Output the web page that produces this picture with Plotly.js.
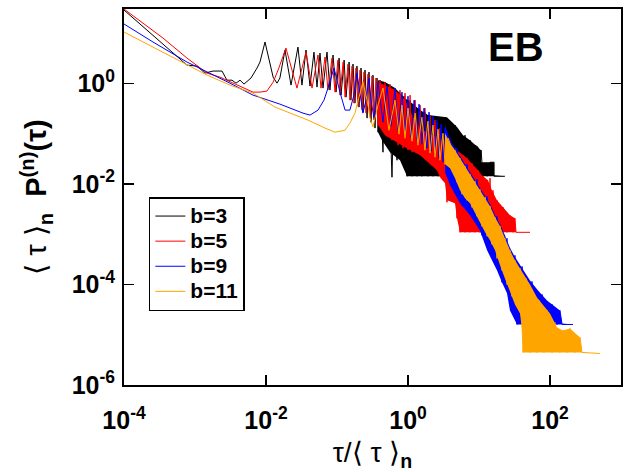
<!DOCTYPE html>
<html>
<head>
<meta charset="utf-8">
<script src="https://cdn.plot.ly/plotly-3.0.1.min.js"></script>
<style>html,body{margin:0;padding:0;background:#fff;}#chart{width:625px;height:472px;}</style>
</head>
<body>
<div id="chart"></div>
<script>
// ---------- series labels / colours ----------
const seriesNames = ['b=3', 'b=5', 'b=9', 'b=11'];
const seriesColors = ['#000000', '#ff0000', '#0000ff', '#ffa500'];

// ---------- tick labels ----------
const xTickVals = [1e-4, 1e-2, 1, 1e2];
const xTickText = ['10<sup>-4</sup>', '10<sup>-2</sup>', '10<sup>0</sup>', '10<sup>2</sup>'];
const yTickVals = [1e-6, 1e-4, 1e-2, 1];
const yTickText = ['10<sup>-6</sup>', '10<sup>-4</sup>', '10<sup>-2</sup>', '10<sup>0</sup>'];

// ---------- b=3 (black) ----------
const b3_x = [1.00e-4, 7.71e-4, 1.07e-3, 1.38e-3, 1.79e-3, 2.40e-3, 2.82e-3, 3.32e-3, 3.78e-3, 4.31e-3,
  4.90e-3, 5.40e-3, 6.15e-3, 7.47e-3, 8.23e-3, 9.68e-3, 1.14e-2, 1.26e-2, 1.43e-2, 1.57e-2,
  1.85e-2, 2.25e-2, 2.82e-2, 3.21e-2, 3.66e-2, 4.17e-2, 4.74e-2, 5.23e-2, 5.76e-2, 6.35e-2,
  7.23e-2, 7.96e-2, 8.79e-2, 9.68e-2, 0.107, 0.114, 0.126, 0.134, 0.148, 0.157,
  0.168, 0.179, 0.191, 0.204, 0.218, 0.232, 0.248, 0.265, 0.282, 0.301,
  0.321, 0.343, 0.366, 0.378, 0.403, 0.444, 0.474, 0.506, 0.539, 0.595,
  0.635, 0.700, 0.747, 0.822, 0.879, 0.968, 1.07, 1.14, 1.22, 1.34,
  1.48, 1.57, 1.73, 1.91, 2.04, 2.25, 2.40, 2.65, 2.82, 3.01,
  3.32, 3.54, 3.91, 4.17, 4.59, 4.90, 5.40, 5.95, 6.35, 7.00,
  7.47, 8.22, 8.78, 9.68, 10.3, 10.7, 11.0, 13.0, 14.3, 16.3,
  16.3, 23.2];
const b3_y = [28.8, 2.31, 2.21, 1.60, 1.76, 1.76, 1.16, 1.16, 1.01, 1.16,
  0.969, 1.11, 1.28, 2.02, 2.66, 6.65, 2.54, 1.33, 1.01, 1.28,
  4.61, 0.925, 5.29, 0.925, 4.61, 0.884, 4.20, 0.844, 4.01, 0.806,
  4.20, 0.736, 3.67, 0.671, 3.19, 0.585, 2.91, 0.533, 2.66, 0.465,
  2.42, 0.405, 2.21, 0.337, 2.02, 0.268, 1.84, 0.204, 1.68, 0.169,
  1.46, 0.129, 1.28, 0.107, 1.16, 0.0428, 1.06, 0.0743, 0.884, 0.0136,
  0.806, 0.0296, 0.671, 0.0373, 0.558, 0.0142, 0.465, 0.0142, 0.387, 0.0142,
  0.294, 0.0142, 0.268, 0.0142, 0.234, 0.0142, 0.223, 0.0142, 0.204, 0.0142,
  0.213, 0.0142, 0.169, 0.0142, 0.148, 0.0142, 0.102, 0.0142, 0.0933, 0.0142,
  0.0743, 0.0142, 0.0590, 0.0538, 0.0142, 0.0469, 0.0270, 0.0142, 0.0270, 0.0270,
  0.0142, 0.0142];
// envelope of the saturated (dense) part of b=3
const b3_band_x = [0.378, 0.474, 0.656, 0.908, 1.14, 1.48, 1.91, 3.01, 3.54, 4.90,
  5.95, 7.47, 9.68, 10.7, 10.7, 16.3, 16.3, 23.2, 0.968, 0.771, 0.557, 0.431, 0.378];
const b3_band_y = [1.16, 1.06, 0.806, 0.509, 0.405, 0.294, 0.234, 0.213, 0.213, 0.135,
  0.0933, 0.0743, 0.0538, 0.0469, 0.0270, 0.0270, 0.0149, 0.0142, 0.0142, 0.0296, 0.0428, 0.0743, 0.107];

// ---------- b=5 (red) ----------
const b5_x = [1.00e-4, 3.54e-4, 7.71e-4, 1.48e-3, 2.25e-3, 3.43e-3, 4.74e-3, 6.56e-3, 8.23e-3, 1.03e-2,
  1.26e-2, 1.48e-2, 1.91e-2, 2.73e-2, 3.66e-2, 4.45e-2, 5.40e-2, 5.95e-2, 6.78e-2, 7.46e-2,
  8.51e-2, 9.38e-2, 0.103, 0.110, 0.122, 0.130, 0.143, 0.152, 0.163, 0.173,
  0.185, 0.198, 0.211, 0.225, 0.240, 0.256, 0.273, 0.292, 0.311, 0.332,
  0.354, 0.378, 0.403, 0.444, 0.474, 0.522, 0.557, 0.595, 0.656, 0.723,
  0.771, 0.851, 0.908, 1.00, 1.07, 1.14, 1.26, 1.38, 1.48, 1.57,
  1.73, 1.91, 2.04, 2.18, 2.40, 2.56, 2.82, 3.11, 3.32, 3.54,
  3.91, 4.31, 4.59, 4.90, 5.06, 5.40, 5.95, 6.35, 6.78, 7.47,
  7.96, 8.78, 9.68, 10.3, 11.4, 13.0, 14.3, 15.2, 15.7, 17.9,
  17.9, 19.8, 21.8, 24.8, 27.3, 30.1, 32.1, 33.2, 52.3];
const b5_y = [30.2, 7.98, 3.19, 1.60, 1.33, 1.01, 0.844, 0.671, 0.671, 0.703,
  1.06, 1.84, 5.05, 0.806, 4.20, 0.806, 3.67, 0.806, 3.34, 0.736,
  3.19, 0.671, 2.91, 0.585, 2.66, 0.533, 2.42, 0.465, 2.21, 0.405,
  2.02, 0.353, 1.84, 0.294, 1.68, 0.256, 1.53, 0.213, 1.40, 0.186,
  1.28, 0.148, 1.16, 0.117, 1.06, 0.0933, 0.969, 0.0743, 0.806, 0.0590,
  0.736, 0.0514, 0.641, 0.0469, 0.585, 0.0428, 0.465, 0.0409, 0.370, 0.0373,
  0.322, 0.0296, 0.234, 0.0236, 0.186, 0.0188, 0.129, 0.0119, 0.0933, 0.00432,
  0.0743, 0.00653, 0.0514, 0.00207, 0.0428, 0.00109, 0.0373, 0.00109, 0.0325, 0.00109,
  0.0258, 0.00109, 0.0188, 0.00109, 0.0142, 0.00109, 0.0130, 0.00109, 0.00748, 0.00109,
  0.00473, 0.00109, 0.00343, 0.00109, 0.00238, 0.00109, 0.00207, 0.00109, 0.00109];
const b5_band_x = [0.378, 0.656, 0.908, 1.14, 1.48, 2.04, 2.82, 3.91, 5.06, 6.56,
  7.96, 9.68, 11.0, 13.4, 15.2, 17.9, 21.8, 27.3, 32.1, 33.2,
  52.3, 5.40, 4.90, 4.59, 3.54, 3.32, 2.82, 2.56, 1.48, 0.908, 0.474, 0.378];
const b5_band_y = [1.06, 0.736, 0.465, 0.234, 0.129, 0.0977, 0.0813, 0.0590, 0.0448, 0.0340,
  0.0258, 0.0188, 0.0149, 0.0119, 0.00748, 0.00473, 0.00343, 0.00238, 0.00207, 0.00109,
  0.00109, 0.00109, 0.00207, 0.00412, 0.00473, 0.0103, 0.0136, 0.0188, 0.0373, 0.0538, 0.0933, 0.148];

// ---------- b=9 (blue) ----------
const b9_x = [1.00e-4, 2.56e-4, 7.71e-4, 1.63e-3, 3.11e-3, 6.56e-3, 1.57e-2, 3.32e-2, 4.17e-2, 5.40e-2,
  6.56e-2, 7.46e-2, 9.08e-2, 0.110, 0.130, 0.152, 0.173, 0.191, 0.211, 0.232,
  0.256, 0.282, 0.301, 0.332, 0.378, 0.444, 0.506, 0.576, 0.656, 0.723,
  0.822, 0.908, 1.00, 1.10, 1.22, 1.34, 1.43, 1.57, 1.68, 1.85,
  1.98, 2.11, 2.25, 2.40, 2.56, 2.73, 2.92, 3.11, 3.32, 3.54,
  3.91, 4.31, 4.90, 5.76, 6.78, 7.96, 9.38, 11.0, 13.0, 15.2,
  17.9, 21.1, 24.8, 27.3, 32.1, 34.3, 40.4, 47.4, 55.7, 65.6,
  77.1, 90.8, 107, 126, 138, 148, 211];
const b9_y = [15.2, 6.65, 2.66, 1.60, 1.01, 0.585, 0.387, 0.256, 0.234, 0.294,
  0.465, 0.806, 2.02, 0.671, 0.294, 0.294, 0.585, 1.60, 0.585, 0.256,
  0.465, 1.28, 0.465, 0.204, 1.06, 0.169, 0.884, 0.141, 0.806, 0.117,
  0.671, 0.0977, 0.558, 0.0851, 0.465, 0.0743, 0.387, 0.0618, 0.322, 0.0514,
  0.268, 0.0448, 0.223, 0.0373, 0.186, 0.0325, 0.155, 0.0270, 0.129, 0.0225,
  0.0813, 0.0130, 0.0514, 0.00377, 0.0247, 0.00217, 0.0124, 9.50e-4, 0.00569, 3.79e-4,
  0.00227, 1.10e-4, 8.28e-4, 3.84e-5, 3.79e-4, 1.60e-5, 2.29e-4, 1.60e-5, 1.15e-4, 1.60e-5,
  6.35e-5, 1.60e-5, 4.01e-5, 1.60e-5, 3.05e-5, 1.60e-5, 1.60e-5];
const b9_band_x = [3.32, 3.91, 4.59, 5.40, 6.35, 7.47, 8.78, 10.3, 12.2, 14.3,
  16.8, 19.8, 23.2, 27.3, 32.1, 37.8, 52.3, 67.8, 90.8, 138,
  148, 211, 34.3, 27.3, 24.8, 21.1, 17.9, 13.0, 10.3, 7.47, 5.40, 3.91, 3.32];
const b9_band_y = [0.148, 0.0740, 0.0520, 0.0360, 0.0250, 0.0172, 0.0125, 0.00870, 0.00600, 0.00400,
  0.00240, 0.00158, 9.50e-4, 5.40e-4, 3.50e-4, 2.45e-4, 1.20e-4, 7.62e-5, 4.82e-5, 3.05e-5,
  1.68e-5, 1.60e-5, 1.60e-5, 3.05e-5, 6.65e-5, 1.10e-4, 1.91e-4, 4.77e-4, 0.00119, 0.00238, 0.00412, 0.00942, 0.0171];

// ---------- b=11 (orange) ----------
const b11_x = [1.00e-4, 2.56e-4, 6.78e-4, 1.48e-3, 3.11e-3, 6.56e-3, 1.34e-2, 2.18e-2, 3.91e-2, 6.78e-2,
  9.38e-2, 0.130, 0.152, 0.179, 0.198, 0.232, 0.265, 0.292, 0.321, 0.378,
  0.444, 0.490, 0.539, 0.656, 0.747, 0.822, 0.908, 1.00, 1.14, 1.26,
  1.38, 1.57, 1.73, 1.91, 2.04, 2.25, 2.40, 2.65, 2.82, 3.11,
  3.32, 3.66, 3.91, 4.17, 4.59, 4.90, 5.40, 5.76, 6.35, 6.78,
  7.47, 7.96, 8.78, 9.38, 10.3, 11.0, 12.2, 13.0, 14.3, 15.2,
  16.8, 17.9, 19.8, 21.1, 23.2, 24.8, 27.3, 29.2, 32.1, 34.3,
  37.8, 41.7, 45.9, 52.3, 55.7, 65.6, 70.0, 82.2, 90.8, 107,
  117, 138, 152, 173, 191, 225, 265, 282, 506];
const b11_y = [10.5, 5.29, 2.66, 1.46, 0.925, 0.641, 0.337, 0.256, 0.186, 0.129,
  0.107, 0.117, 0.162, 0.256, 0.465, 1.06, 0.465, 0.204, 0.135, 0.370,
  0.806, 0.294, 0.117, 0.465, 0.0977, 0.370, 0.0813, 0.322, 0.0709, 0.256,
  0.0590, 0.213, 0.0469, 0.177, 0.0409, 0.148, 0.0340, 0.123, 0.0296, 0.102,
  0.0247, 0.0813, 0.0647, 0.0188, 0.0469, 0.0108, 0.0325, 0.00623, 0.0225, 0.00473,
  0.0156, 0.00343, 0.0113, 0.00227, 0.00783, 0.00144, 0.00543, 9.08e-4, 0.00360, 6.29e-4,
  0.00217, 3.31e-4, 0.00144, 1.91e-4, 8.28e-4, 1.00e-4, 4.77e-4, 5.79e-5, 3.02e-4, 3.66e-5,
  2.09e-4, 4.44e-6, 1.32e-4, 4.44e-6, 7.98e-5, 4.44e-6, 4.82e-5, 4.44e-6, 3.05e-5, 4.44e-6,
  1.76e-5, 4.44e-6, 1.22e-5, 4.44e-6, 1.33e-5, 4.44e-6, 8.83e-6, 4.44e-6, 4.24e-6];
const b11_band_x = [3.32, 3.91, 4.59, 5.40, 6.35, 7.47, 8.78, 10.3, 12.2, 14.3,
  16.8, 19.8, 23.2, 27.3, 32.1, 37.8, 41.7, 52.3, 65.6, 100,
  126, 152, 191, 265, 282, 506, 41.7, 41.7, 37.8, 32.1,
  27.3, 23.2, 19.8, 16.8, 14.3, 12.2, 10.3, 8.78, 7.47, 6.35,
  5.40, 4.59, 3.91, 3.32];
const b11_band_y = [0.102, 0.0647, 0.0469, 0.0325, 0.0225, 0.0156, 0.0113, 0.00783, 0.00543, 0.00360,
  0.00217, 0.00144, 8.28e-4, 4.77e-4, 3.02e-4, 2.09e-4, 1.66e-4, 1.00e-4, 5.53e-5, 2.65e-5,
  1.40e-5, 1.22e-5, 1.33e-5, 8.83e-6, 4.44e-6, 4.44e-6, 4.44e-6, 8.83e-6, 2.65e-5, 4.01e-5,
  6.96e-5, 1.32e-4, 2.40e-4, 4.77e-4, 7.55e-4, 0.00109, 0.00173, 0.00273, 0.00412, 0.00519,
  0.00748, 0.0130, 0.0206, 0.0247];

const FONT = 'Liberation Sans, Arial, Helvetica, sans-serif';

const lines = [[b3_x, b3_y, b3_band_x, b3_band_y], [b5_x, b5_y, b5_band_x, b5_band_y],
               [b9_x, b9_y, b9_band_x, b9_band_y], [b11_x, b11_y, b11_band_x, b11_band_y]];
const traces = [];
lines.forEach((s, i) => {
  traces.push({x: s[2], y: s[3], type: 'scatter', mode: 'lines', fill: 'toself',
    fillcolor: seriesColors[i], line: {width: 0, color: seriesColors[i]},
    showlegend: false, hoverinfo: 'skip', legendgroup: seriesNames[i]});
  traces.push({x: s[0], y: s[1], type: 'scatter', mode: 'lines',
    name: '<span style="font-size:21px">' + seriesNames[i] + '</span>',
    line: {width: 1, color: seriesColors[i]}, legendgroup: seriesNames[i]});
});

const axisCommon = {
  type: 'log', showgrid: false, zeroline: false, showline: true, linecolor: '#000',
  linewidth: 2, mirror: 'ticks', ticks: 'inside', ticklen: 10, tickwidth: 1.5, tickcolor: '#000',
  tickfont: {family: FONT, size: 25, color: '#000', weight: 'bold'}, tickmode: 'array'
};

const layout = {
  width: 625, height: 472,
  margin: {l: 124, r: 4, t: 9, b: 87},
  paper_bgcolor: '#fff', plot_bgcolor: '#fff',
  showlegend: true,
  xaxis: Object.assign({}, axisCommon, {
    range: [-4, 3], tickvals: xTickVals, ticktext: xTickText, ticklabelstandoff: 12,
    title: {text: 'τ/⟨ τ ⟩<sub><b>n</b></sub>', font: {family: FONT, size: 28, color: '#000'}, standoff: 10}
  }),
  yaxis: Object.assign({}, axisCommon, {
    range: [-6, 1.48], tickvals: yTickVals, ticktext: yTickText, ticklabelstandoff: 2,
    title: {text: '⟨ τ ⟩<sub><b>n</b></sub>  <b>P<sup>(n)</sup>(τ)</b>', font: {family: FONT, size: 29, color: '#000'}, standoff: 16}
  }),
  legend: {
    x: 0.05, y: 0.5, xanchor: 'left', yanchor: 'top',
    bgcolor: '#fff', bordercolor: '#000', borderwidth: 1.5,
    font: {family: FONT, size: 17, color: '#000', weight: 'bold'},
    tracegroupgap: 0, itemwidth: 30
  },
  annotations: [{
    text: '<b>EB</b>', xref: 'paper', yref: 'paper', x: 0.789, y: 0.899,
    xanchor: 'center', yanchor: 'middle', showarrow: false,
    font: {family: FONT, size: 40, color: '#000'}
  }]
};

Plotly.newPlot('chart', traces, layout, {staticPlot: true, displayModeBar: false});
</script>
</body>
</html>
